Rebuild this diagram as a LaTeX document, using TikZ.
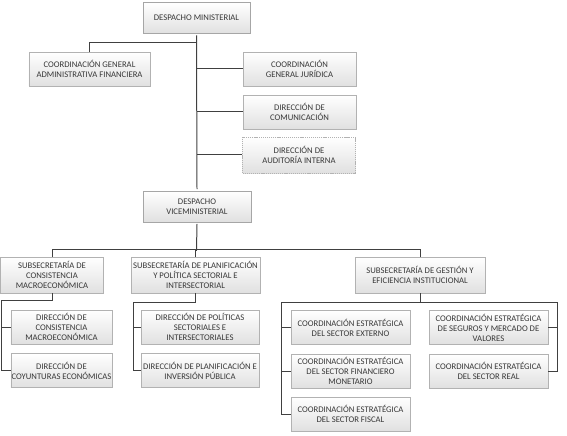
\documentclass[tikz,border=0pt]{standalone}
\usepackage{fontspec}
\setmainfont{Carlito}
\usepackage{tikz}
\usetikzlibrary{shadows}

\tikzset{
  unit/.style={draw=black!30, top color=white, bottom color=black!12,
    text=black!78, align=center, inner xsep=0pt, inner ysep=1pt, minimum height=34bp,
    font=\fontsize{8.7}{10}\selectfont,
    drop shadow={shadow xshift=0.7pt, shadow yshift=-0.7pt, opacity=0.25}},
  head/.style={unit, draw=black!35,
    append after command={[draw=black!35, line width=0.5pt]
      ([xshift=-1.8pt,yshift=1.8pt]\tikzlastnode.north west) rectangle
      ([xshift=1.8pt,yshift=-1.8pt]\tikzlastnode.south east)}},
  staff/.style={unit, dash pattern=on 1.2pt off 0.9pt},
  link/.style={draw=black!75, line width=1pt}
}

\begin{document}
\begin{tikzpicture}[x=1bp,y=-1bp]
  \useasboundingbox (0,0) rectangle (567,436);

  % despachos y asesoria
  \node[head, minimum width=107bp, minimum height=31bp] (dm) at (196.5,18) {DESPACHO MINISTERIAL};
  \node[unit, minimum width=121bp] (cgaf) at (89.5,69) {COORDINACIÓN GENERAL\\ADMINISTRATIVA FINANCIERA};
  \node[unit, minimum width=113bp] (cgj) at (299.5,69) {COORDINACIÓN\\GENERAL JURÍDICA};
  \node[unit, minimum width=113bp] (dcom) at (299.5,112) {DIRECCIÓN DE\\COMUNICACIÓN};
  \node[staff, minimum width=113bp, minimum height=36bp] (dai) at (299,155) {DIRECCIÓN DE\\AUDITORÍA INTERNA};
  \node[head, minimum width=108bp, minimum height=31bp] (dvm) at (197,206.5) {DESPACHO\\VICEMINISTERIAL};

  % subsecretarias
  \node[unit, minimum width=103bp, minimum height=36bp] (scm) at (52,275) {SUBSECRETARÍA DE\\CONSISTENCIA\\MACROECONÓMICA};
  \node[unit, minimum width=129bp, minimum height=36bp] (spp) at (195.5,275) {SUBSECRETARÍA DE PLANIFICACIÓN\\Y POLÍTICA SECTORIAL E\\INTERSECTORIAL};
  \node[unit, minimum width=130bp, minimum height=36bp] (sgei) at (420,275) {SUBSECRETARÍA DE GESTIÓN Y\\EFICIENCIA INSTITUCIONAL};

  % direcciones
  \node[unit, minimum width=101bp] (dcm) at (61.5,327) {DIRECCIÓN DE\\CONSISTENCIA\\MACROECONÓMICA};
  \node[unit, minimum width=101bp] (dce) at (61.5,370.5) {DIRECCIÓN DE\\COYUNTURAS ECONÓMICAS};
  \node[unit, minimum width=118bp] (dps) at (200,327) {DIRECCIÓN DE POLÍTICAS\\SECTORIALES E\\INTERSECTORIALES};
  \node[unit, minimum width=118bp] (dpi) at (200,370.5) {DIRECCIÓN DE PLANIFICACIÓN E\\INVERSIÓN PÚBLICA};

  % coordinaciones estrategicas
  \node[unit, minimum width=119bp] (cee) at (350.5,327.5) {COORDINACIÓN ESTRATÉGICA\\DEL SECTOR EXTERNO};
  \node[unit, minimum width=119bp] (cef) at (350.5,371) {COORDINACIÓN ESTRATÉGICA\\DEL SECTOR FINANCIERO\\MONETARIO};
  \node[unit, minimum width=119bp] (cefi) at (350.5,414) {COORDINACIÓN ESTRATÉGICA\\DEL SECTOR FISCAL};
  \node[unit, minimum width=119bp] (csm) at (488.5,327.5) {COORDINACIÓN ESTRATÉGICA\\DE SEGUROS Y MERCADO DE\\VALORES};
  \node[unit, minimum width=119bp] (csr) at (488.5,371) {COORDINACIÓN ESTRATÉGICA\\DEL SECTOR REAL};

  \coordinate (jaf) at (196.5,43);
  \coordinate (bus) at (196.5,250);
  \coordinate (lscm) at (1,300);
  \coordinate (lspp) at (133,302);
  \coordinate (lsg) at (281,302);
  \coordinate (rsg) at (557,302);

  % conectores
  \draw[link] ([yshift=-1.8pt]dm.south) -- ([yshift=1.8pt]dvm.north);
  \draw[link] (cgaf.north) |- (jaf);
  \draw[link] (cgj.west) -- (cgj.west -| dm.south);
  \draw[link] (dcom.west) -- (dcom.west -| dm.south);
  \draw[link] (dai.west) -- (dai.west -| dm.south);
  \draw[link] ([yshift=-1.8pt]dvm.south) -- (bus);
  \draw[link] (scm.north) -- ++(0,-7) -| (sgei.north);
  \draw[link] (bus) -| (spp.north);

  \draw[link] (scm.south) |- (lscm) |- (dce.west);
  \draw[link] (dcm.west) -- (dcm.west -| lscm);
  \draw[link] (spp.south) |- (lspp) |- (dpi.west);
  \draw[link] (dps.west) -- (dps.west -| lspp);
  \draw[link] (sgei.south) -- (sgei.south |- lsg);
  \draw[link] (cefi.west) -| (lsg) -- (rsg) |- (csr.east);
  \draw[link] (cee.west) -- (cee.west -| lsg);
  \draw[link] (cef.west) -- (cef.west -| lsg);
  \draw[link] (csm.east) -- (csm.east -| rsg);
\end{tikzpicture}
\end{document}
